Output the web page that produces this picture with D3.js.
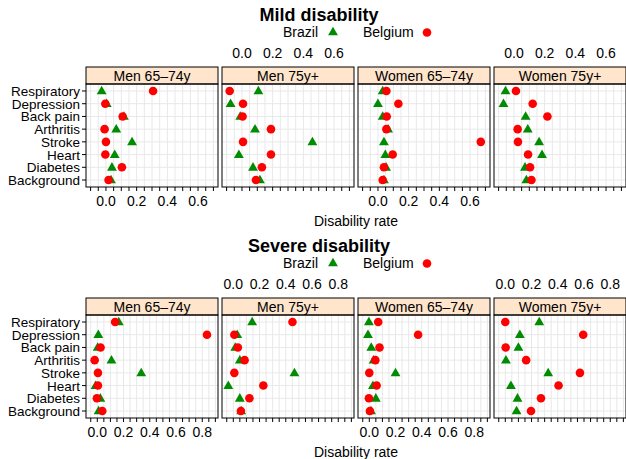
<!DOCTYPE html>
<html lang="en">
<head>
  <meta charset="UTF-8">
  <title>Mild and severe disability</title>
  <script src="https://d3js.org/d3.v7.min.js"></script>
  <style>
    body { margin: 0; background: #fff; }
    text { font-family: "Liberation Sans", Arial, sans-serif; fill: #000; }
  </style>
</head>
<body>
  <svg id="chart" width="626" height="459"></svg>

  <script>
    // categories, top to bottom
    const causes = ["Respiratory", "Depression", "Back pain", "Arthritis",
                    "Stroke", "Heart", "Diabetes", "Background"];
    const groups = ["Men 65\u201374y", "Men 75y+", "Women 65\u201374y", "Women 75y+"];

    // mild disability, one array per group, values in cause order
    const mildBrazil = [
      [-0.028, 0.005, 0.117, 0.067, 0.170, 0.057, 0.039, 0.033],
      [0.107, -0.074, -0.011, 0.085, 0.459, -0.020, 0.072, 0.117],
      [0.031, 0.000, 0.031, 0.066, 0.039, 0.048, 0.053, 0.039],
      [-0.055, -0.068, 0.076, 0.090, 0.164, 0.183, 0.072, 0.081]
    ];
    const mildBelgium = [
      [0.307, -0.004, 0.109, -0.009, 0.000, -0.004, 0.104, 0.017],
      [-0.080, 0.007, 0.004, 0.189, 0.007, 0.189, 0.130, 0.091],
      [0.055, 0.133, 0.057, 0.055, 0.670, 0.096, 0.039, 0.031],
      [0.013, 0.122, 0.218, 0.024, 0.026, 0.092, 0.105, 0.114]
    ];

    // severe disability
    const severeBrazil = [
      [0.164, 0.008, 0.003, 0.108, 0.335, -0.013, 0.023, 0.010],
      [0.144, 0.030, 0.015, 0.050, 0.466, -0.038, 0.050, 0.060],
      [-0.003, -0.010, 0.015, 0.033, 0.200, 0.028, 0.050, 0.013],
      [0.259, 0.111, 0.100, 0.005, 0.327, 0.043, 0.093, 0.086]
    ];
    const severeBelgium = [
      [0.136, 0.836, 0.025, -0.020, 0.005, 0.005, -0.003, 0.038],
      [0.451, 0.008, 0.035, 0.086, 0.008, 0.229, 0.123, 0.058],
      [0.068, 0.372, 0.078, 0.046, 0.000, 0.056, -0.003, 0.005],
      [0.000, 0.594, 0.003, 0.159, 0.569, 0.406, 0.272, 0.196]
    ];

    const mildTicks = [0, 0.2, 0.4, 0.6];
    const severeTicks = [0, 0.2, 0.4, 0.6, 0.8];

    const svg = d3.select("#chart");
    const green = "#008B00", red = "#FF0000";
    const panelLeft = [86, 222, 358, 494];
    const panelW = 132;
    const tri = d3.symbol().type(d3.symbolTriangle).size(42);

    function drawChart(y0, title, brazil, belgium, domain, ticks) {
      const g = svg.append("g").attr("transform", `translate(0,${y0})`);
      const stripTop = 67, panelTop = 84, panelBottom = 187;

      // title + legend
      g.append("text").attr("x", 319).attr("y", 21)
        .attr("text-anchor", "middle").attr("font-size", 18).attr("font-weight", "bold")
        .text(title);
      g.append("text").attr("x", 283).attr("y", 37).attr("font-size", 14).text("Brazil");
      g.append("path").attr("d", tri).attr("fill", green)
        .attr("transform", "translate(333,32.5)");
      g.append("text").attr("x", 363).attr("y", 37).attr("font-size", 14).text("Belgium");
      g.append("circle").attr("cx", 427).attr("cy", 32.5).attr("r", 4.3).attr("fill", red);

      const y = d3.scalePoint().domain(causes)
        .range([panelTop, panelBottom]).padding(0.55);

      // row labels
      g.selectAll(".rowlab").data(causes).enter().append("text")
        .attr("x", 80).attr("y", d => y(d) + 5)
        .attr("text-anchor", "end").attr("font-size", 13.5).text(d => d);
      g.selectAll(".rowtick").data(causes).enter().append("line")
        .attr("x1", 82).attr("x2", 86).attr("y1", d => y(d)).attr("y2", d => y(d))
        .attr("stroke", "#000");

      groups.forEach((grp, i) => {
        const x = d3.scaleLinear().domain(domain)
          .range([panelLeft[i], panelLeft[i] + panelW]);
        const p = g.append("g");
        const minor = d3.range(Math.ceil(domain[0] / 0.05) * 0.05, domain[1], 0.05);

        // grid
        p.selectAll(".vg").data(minor).enter().append("line")
          .attr("x1", d => x(d)).attr("x2", d => x(d))
          .attr("y1", panelTop).attr("y2", panelBottom)
          .attr("stroke", "#e8e8e8");
        p.selectAll(".hg").data(causes).enter().append("line")
          .attr("x1", x.range()[0]).attr("x2", x.range()[1])
          .attr("y1", d => y(d)).attr("y2", d => y(d))
          .attr("stroke", "#e8e8e8");

        // bottom ticks
        p.selectAll(".bt").data(minor).enter().append("line")
          .attr("x1", d => x(d)).attr("x2", d => x(d))
          .attr("y1", panelBottom).attr("y2", panelBottom + 4)
          .attr("stroke", "#000");

        // tick labels alternate bottom / top
        const ly = i % 2 === 0 ? 206 : 58;
        p.selectAll(".tl").data(ticks).enter().append("text")
          .attr("x", d => x(d)).attr("y", ly)
          .attr("text-anchor", "middle").attr("font-size", 14)
          .text(d => d3.format(".1f")(d));

        // strip
        p.append("rect").attr("x", x.range()[0]).attr("y", stripTop)
          .attr("width", panelW).attr("height", panelTop - stripTop)
          .attr("fill", "#FFE5CC").attr("stroke", "#000");
        p.append("text").attr("x", x.range()[0] + panelW / 2).attr("y", panelTop - 3.5)
          .attr("text-anchor", "middle").attr("font-size", 14).text(grp);

        // points
        p.selectAll(".br").data(brazil[i]).enter().append("path")
          .attr("d", tri).attr("fill", green)
          .attr("transform", (d, j) => `translate(${x(d)},${y(causes[j]) + 0.5})`);
        p.selectAll(".be").data(belgium[i]).enter().append("circle")
          .attr("cx", d => x(d)).attr("cy", (d, j) => y(causes[j]))
          .attr("r", 4.3).attr("fill", red);

        // frame
        p.append("rect").attr("x", x.range()[0]).attr("y", panelTop)
          .attr("width", panelW).attr("height", panelBottom - panelTop)
          .attr("fill", "none").attr("stroke", "#000");
      });

      g.append("text").attr("x", 356).attr("y", 226)
        .attr("text-anchor", "middle").attr("font-size", 14).text("Disability rate");
    }

    drawChart(0, "Mild disability", mildBrazil, mildBelgium, [-0.13, 0.73], mildTicks);
    drawChart(231, "Severe disability", severeBrazil, severeBelgium, [-0.086, 0.92], severeTicks);
  </script>
</body>
</html>
